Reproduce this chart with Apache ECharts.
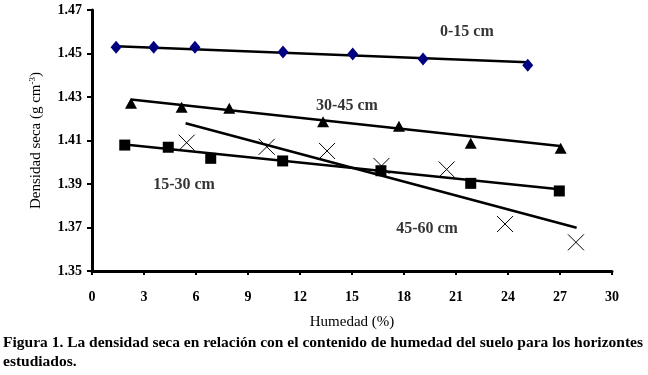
<!DOCTYPE html>
<html>
<head>
<meta charset="utf-8">
<script src="https://cdn.jsdelivr.net/npm/echarts@6/dist/echarts.min.js"></script>
<style>
  html, body { margin: 0; padding: 0; background: #fff; }
  #chart { width: 648px; height: 375px; }
</style>
</head>
<body>
<div id="chart"></div>
<script>
// values
var xTicks = [0, 3, 6, 9, 12, 15, 18, 21, 24, 27, 30];
var yTicks = [1.35, 1.37, 1.39, 1.41, 1.43, 1.45, 1.47];

var h0_15 = [[1.39, 1.4529], [3.56, 1.4529], [5.94, 1.4529], [11.02, 1.4507], [15.04, 1.4498], [19.1, 1.4475], [25.14, 1.4446]];
var h15_30 = [[1.89, 1.4079], [4.40, 1.4069], [6.85, 1.4018], [11.0, 1.4006], [16.67, 1.3961], [21.85, 1.3903], [26.96, 1.3868]];
var h30_45 = [[2.25, 1.4271], [5.17, 1.4253], [7.92, 1.4248], [13.33, 1.4186], [17.71, 1.4166], [21.85, 1.4087], [27.04, 1.4064]];
var h45_60 = [[5.46, 1.4090], [10.08, 1.4071], [13.56, 1.4052], [16.70, 1.3983], [20.46, 1.3967], [23.83, 1.3716], [27.92, 1.3632]];

// trend lines (end points)
var fit0_15 = [[1.39, 1.4533], [25.14, 1.4460]];
var fit15_30 = [[1.89, 1.4082], [26.96, 1.3876]];
var fit30_45 = [[2.25, 1.4289], [27.0, 1.4075]];
var fit45_60 = [[5.4, 1.4179], [27.96, 1.3699]];

var labelNames = ['0-15 cm', '30-45 cm', '15-30 cm', '45-60 cm'];
var labelPos = [[21.63, 1.4599], [14.71, 1.4259], [5.31, 1.3895], [19.33, 1.3696]];

var serif = '"Liberation Serif", "DejaVu Serif", serif';
var crossPath = 'path://M0,0L10,10M10,0L0,10';

var chart = echarts.init(document.getElementById('chart'));

function fitLine(d) {
  return {
    type: 'line', data: d, showSymbol: false, silent: true, z: 2,
    lineStyle: { color: '#000', width: 2.5 }
  };
}

var option = {
  animation: false,
  grid: { left: 92, right: 36, top: 10, bottom: 104 },
  xAxis: {
    type: 'value', min: 0, max: 30, interval: 3,
    name: 'Humedad (%)', nameLocation: 'middle', nameGap: 44,
    nameTextStyle: { fontFamily: serif, fontSize: 15, color: '#000' },
    axisLine: { lineStyle: { color: '#000', width: 3 } },
    axisTick: { inside: false, length: 4, lineStyle: { color: '#000', width: 2 } },
    axisLabel: { margin: 19, fontFamily: serif, fontWeight: 'bold', fontSize: 14, color: '#000' },
    splitLine: { show: false }
  },
  yAxis: {
    type: 'value', min: 1.35, max: 1.47, interval: 0.02,
    name: '{n|Densidad seca (g cm}{s|-3}{n|)}', nameLocation: 'middle', nameGap: 48,
    nameTextStyle: {
      rich: {
        n: { fontFamily: serif, fontSize: 15, color: '#000', lineHeight: 16, verticalAlign: 'bottom' },
        s: { fontFamily: serif, fontSize: 9, color: '#000', lineHeight: 16, verticalAlign: 'top' }
      }
    },
    axisLine: { show: true, lineStyle: { color: '#000', width: 3 } },
    axisTick: { show: true, length: 5, lineStyle: { color: '#000', width: 2 } },
    axisLabel: {
      margin: 10, fontFamily: serif, fontWeight: 'bold', fontSize: 14, color: '#000',
      formatter: function (v) { return v.toFixed(2); }
    },
    splitLine: { show: false }
  },
  series: [
    fitLine(fit0_15), fitLine(fit15_30), fitLine(fit30_45), fitLine(fit45_60),
    {
      name: '0-15 cm', type: 'scatter', data: h0_15, symbol: 'diamond', symbolSize: [11, 13], z: 5,
      itemStyle: { color: '#000080', opacity: 1 }
    },
    {
      name: '15-30 cm', type: 'scatter', data: h15_30, symbol: 'rect', symbolSize: 11, z: 5,
      itemStyle: { color: '#000', opacity: 1 }
    },
    {
      name: '30-45 cm', type: 'scatter', data: h30_45, symbol: 'triangle', symbolSize: [12, 11], z: 5,
      itemStyle: { color: '#000', opacity: 1 }
    },
    {
      name: '45-60 cm', type: 'scatter', data: h45_60, symbol: crossPath, symbolSize: 16, z: 5,
      itemStyle: { color: 'rgba(0,0,0,0)', borderColor: '#000', borderWidth: 1, opacity: 1 }
    },
    {
      type: 'scatter', symbolSize: 0, silent: true, z: 6,
      data: labelPos.map(function (p, i) { return { value: p, name: labelNames[i] }; }),
      label: {
        show: true, position: 'inside', formatter: '{b}',
        fontFamily: serif, fontWeight: 'bold', fontSize: 16, color: '#000'
      }
    }
  ],
  graphic: [
    {
      type: 'text', left: 3, top: 333,
      style: {
        text: 'Figura 1. La densidad seca en relación con el contenido de humedad del suelo para los horizontes\nestudiados.',
        font: 'bold 15.5px "Liberation Serif", serif', fill: '#000', lineHeight: 19
      }
    }
  ]
};

chart.setOption(option);
</script>
</body>
</html>
